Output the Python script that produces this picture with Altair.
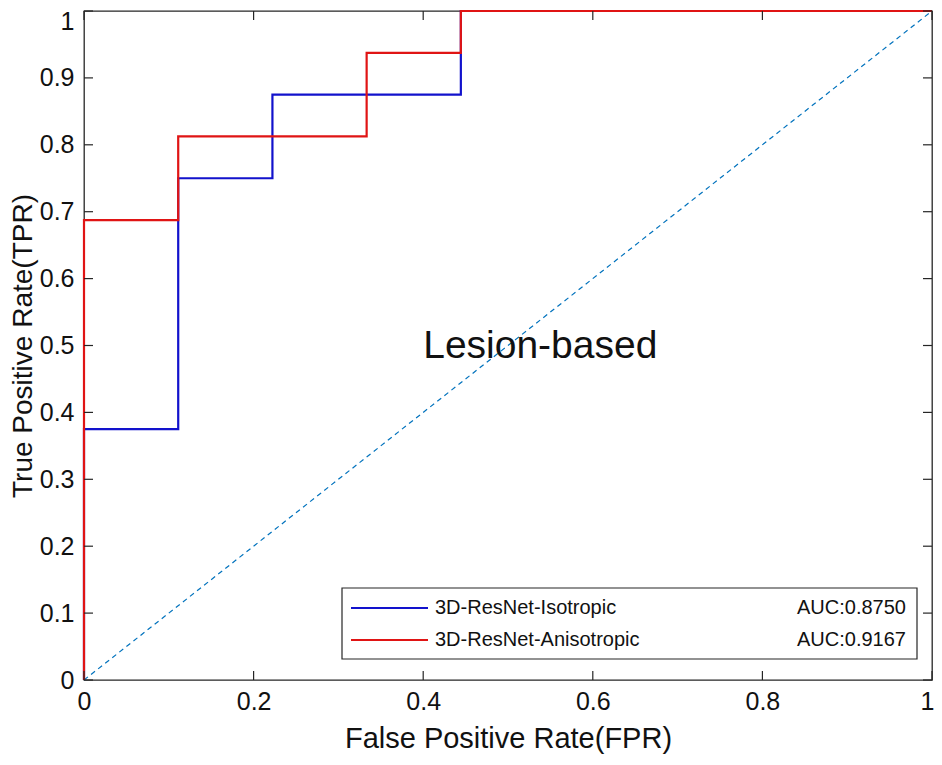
import altair as alt
import pandas as pd

# ---- data ----
series_names = ["3D-ResNet-Isotropic", "3D-ResNet-Anisotropic"]
auc_labels = ["AUC:0.8750", "AUC:0.9167"]
series_colors = ["#1212CC", "#E01414"]

iso_fpr = [0.0, 0.0, 0.1111, 0.1111, 0.2222, 0.2222, 0.4444, 0.4444, 1.0]
iso_tpr = [0.0, 0.375, 0.375, 0.75, 0.75, 0.875, 0.875, 1.0, 1.0]

ani_fpr = [0.0, 0.0, 0.1111, 0.1111, 0.3333, 0.3333, 0.4444, 0.4444, 1.0]
ani_tpr = [0.0, 0.6875, 0.6875, 0.8125, 0.8125, 0.9375, 0.9375, 1.0, 1.0]

chance_x = [0.0, 1.0]
chance_y = [0.0, 1.0]

x_ticks = [0, 0.2, 0.4, 0.6, 0.8, 1]
y_ticks = [0, 0.1, 0.2, 0.3, 0.4, 0.5, 0.6, 0.7, 0.8, 0.9, 1]

annotation = "Lesion-based"
x_title = "False Positive Rate(FPR)"
y_title = "True Positive Rate(TPR)"

# ---- layout constants ----
W, H = 848, 669
FONT = "Liberation Sans"
AXC = "#262626"
TXT = "#111111"

rows = []
for name, xs, ys in [(series_names[0], iso_fpr, iso_tpr), (series_names[1], ani_fpr, ani_tpr)]:
    for i, (a, b) in enumerate(zip(xs, ys)):
        rows.append({"series": name, "fpr": a, "tpr": b, "idx": i})
roc = pd.DataFrame(rows)

xscale = alt.Scale(domain=[0, 1], nice=False, zero=False)
yscale = alt.Scale(domain=[0, 1], nice=False, zero=False)

xaxis = alt.Axis(values=x_ticks, format=".1~f", ticks=False, domain=False, grid=False,
                 labelFontSize=25, labelFont=FONT, labelColor=TXT, labelPadding=9,
                 labelFlush=False,
                 labelOffset={"condition": {"test": "datum.value == 1", "value": -5}, "value": 0},
                 title=x_title, titleFontSize=29, titleFont=FONT,
                 titleFontWeight="normal", titleColor=TXT, titlePadding=10)
yaxis = alt.Axis(values=y_ticks, format=".1~f", ticks=False, domain=False, grid=False,
                 labelFontSize=25, labelFont=FONT, labelColor=TXT, labelPadding=10,
                 labelFlush=False,
                 labelOffset={"condition": {"test": "datum.value == 1", "value": 10}, "value": 0},
                 title=y_title, titleFontSize=28, titleFont=FONT,
                 titleFontWeight="normal", titleColor=TXT, titlePadding=2)

chance = alt.Chart(pd.DataFrame({"x": chance_x, "y": chance_y})).mark_line(
    color="#0072BD", strokeWidth=1.2, strokeDash=[5, 4]
).encode(
    x=alt.X("x:Q", scale=xscale, axis=xaxis),
    y=alt.Y("y:Q", scale=yscale, axis=yaxis),
)

curves = alt.Chart(roc).mark_line(strokeWidth=2.2, clip=False).encode(
    x=alt.X("fpr:Q", scale=xscale),
    y=alt.Y("tpr:Q", scale=yscale),
    color=alt.Color("series:N", scale=alt.Scale(domain=series_names, range=series_colors), legend=None),
    order="idx:Q",
)

xt = pd.DataFrame({"v": x_ticks})
yt = pd.DataFrame({"v": y_ticks})
TL = 9
tick_style = dict(color=AXC, strokeWidth=1.2)
xticks_bottom = alt.Chart(xt).mark_rule(**tick_style).encode(
    x=alt.X("v:Q", scale=xscale), y=alt.value(H), y2=alt.value(H - TL))
xticks_top = alt.Chart(xt).mark_rule(**tick_style).encode(
    x=alt.X("v:Q", scale=xscale), y=alt.value(0), y2=alt.value(TL))
yticks_left = alt.Chart(yt).mark_rule(**tick_style).encode(
    y=alt.Y("v:Q", scale=yscale), x=alt.value(0), x2=alt.value(TL))
yticks_right = alt.Chart(yt).mark_rule(**tick_style).encode(
    y=alt.Y("v:Q", scale=yscale), x=alt.value(W), x2=alt.value(W - TL))

label = alt.Chart(pd.DataFrame({"x": [0.4], "y": [0.5], "t": [annotation]})).mark_text(
    align="left", baseline="middle", fontSize=39, font=FONT, color=TXT
).encode(x=alt.X("x:Q", scale=xscale), y=alt.Y("y:Q", scale=yscale), text="t:N")

# ---- legend box ----
LX0, LX1, LY0, LY1 = 258, 833, 577, 648
legend_layers = [
    alt.Chart(pd.DataFrame({"a": [0]})).mark_rect(fill="white", stroke=AXC, strokeWidth=1.2).encode(
        x=alt.value(LX0), x2=alt.value(LX1), y=alt.value(LY0), y2=alt.value(LY1))
]
for k, (name, auc, col) in enumerate(zip(series_names, auc_labels, series_colors)):
    yy = 597 + 32 * k
    d = pd.DataFrame({"name": [name], "auc": [auc]})
    legend_layers.append(alt.Chart(d).mark_rule(color=col, strokeWidth=2.2).encode(
        x=alt.value(267), x2=alt.value(344), y=alt.value(yy)))
    legend_layers.append(alt.Chart(d).mark_text(align="left", baseline="middle", fontSize=20,
                                                font=FONT, color=TXT).encode(
        x=alt.value(351), y=alt.value(yy), text="name:N"))
    legend_layers.append(alt.Chart(d).mark_text(align="right", baseline="middle", fontSize=20,
                                                font=FONT, color=TXT).encode(
        x=alt.value(822), y=alt.value(yy), text="auc:N"))

chart = alt.layer(
    chance, curves, xticks_bottom, xticks_top, yticks_left, yticks_right, label, *legend_layers
).properties(
    width=W, height=H,
    autosize=alt.AutoSizeParams(type="none"),
    padding={"left": 76, "top": 3, "right": 2, "bottom": 75},
    background="white",
).configure_view(stroke=AXC, strokeWidth=1.3)

chart.save("out.html", embed_options={"renderer": "svg", "actions": False})
